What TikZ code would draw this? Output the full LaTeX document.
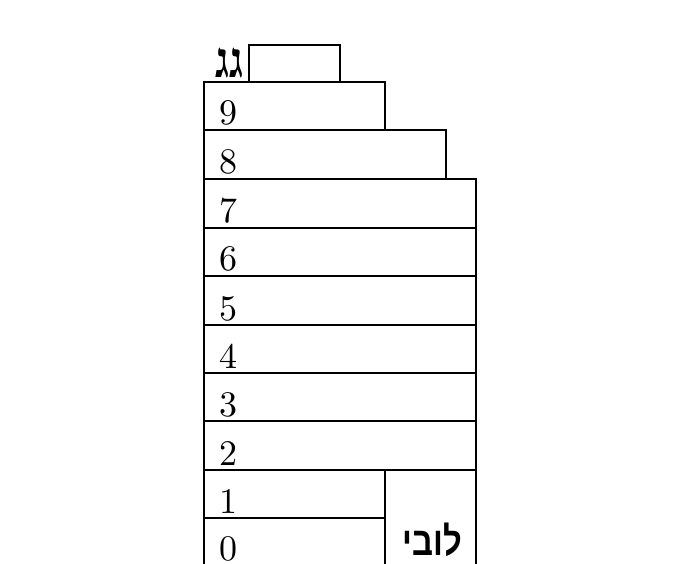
\documentclass[tikz,border=0pt]{standalone}
\usepackage{fontspec}
\newfontfamily\hebfont[Script=Hebrew,FakeStretch=0.82]{Liberation Sans}
\newfontfamily\hebserif[Script=Hebrew,FakeStretch=0.85]{Liberation Serif}
\newfontfamily\numfont{lmroman10-regular}[Extension=.otf]
\TeXXeTstate=1
\begin{document}
\begin{tikzpicture}[x=1pt,y=-1pt,
  floor/.style={draw=black,line width=1.4pt},
  num/.style={anchor=base west,inner sep=0pt,font=\numfont\fontsize{36}{36}\selectfont},
  heb/.style={inner sep=0pt,font=\hebfont\bfseries\fontsize{40}{40}\selectfont},
  hebs/.style={inner sep=0pt,font=\hebserif\bfseries\fontsize{50}{50}\selectfont}]
\useasboundingbox (0,0) rectangle (675,564);
% roof
\draw[floor] (249,45) rectangle (340,82);
\node[hebs,anchor=base east] (roof) at (244,78) {\beginR גג\endR};
% floors
\draw[floor] (204,82) rectangle (385,130);
\draw[floor] (204,130) rectangle (446,179);
\foreach \t/\b in {179/228,228/276,276/325,325/373,373/421,421/470}
  \draw[floor] (204,\t) rectangle (476,\b);
\draw[floor] (204,470) rectangle (385,518);
\draw[floor] (204,564) -- (204,518) -- (385,518) -- (385,564);
\draw[floor] (385,470) -- (476,470) -- (476,564);
% numbers
\node[num] (n9) at (219,125) {9};
\node[num] (n8) at (219,174) {8};
\node[num] (n7) at (219,223) {7};
\node[num] (n6) at (219,271) {6};
\node[num] (n5) at (219,320) {5};
\node[num] (n4) at (219,368) {4};
\node[num] (n3) at (219,416) {3};
\node[num] (n2) at (219,465) {2};
\node[num] (n1) at (219,513) {1};
\node[num] (n0) at (219,560) {0};
\node[heb,anchor=base] (lobby) at (432,555) {\beginR לובי\endR};
\end{tikzpicture}
\end{document}
